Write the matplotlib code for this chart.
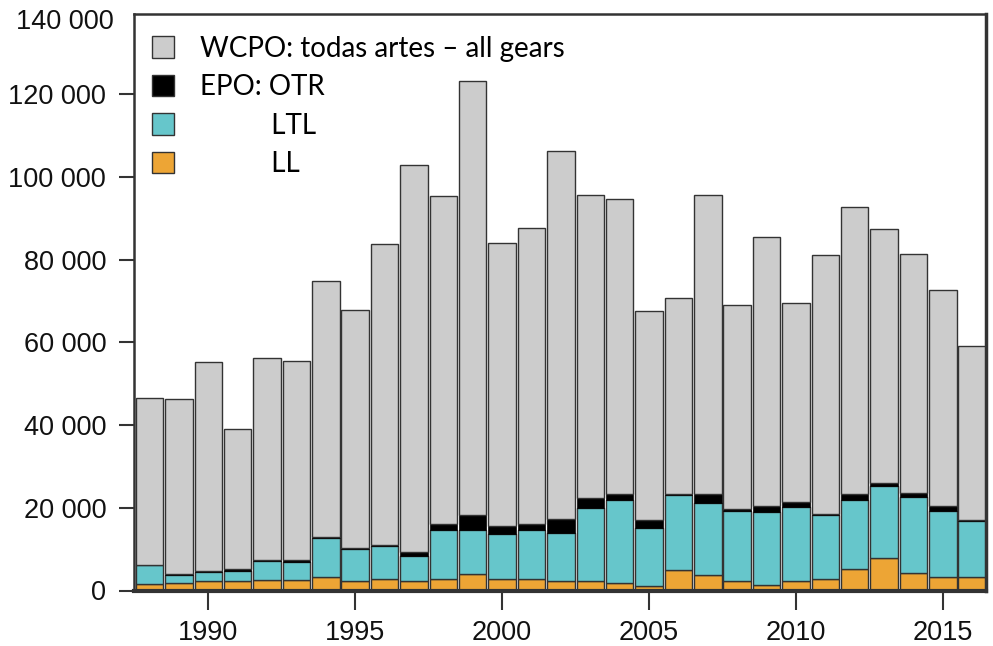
import matplotlib
matplotlib.use("Agg")
import matplotlib.pyplot as plt
import matplotlib.transforms as mtransforms
from matplotlib.patches import Patch
import numpy as np

years = list(range(1988, 2017))
ll = [1600, 1700, 2200, 2300, 2600, 2600, 3300, 2300, 2700, 2300, 2700, 3900, 2700, 2700, 2300,
      2300, 1700, 1200, 5000, 3800, 2300, 1300, 2300, 2700, 5300, 7900, 4200, 3200, 3200]
ltl = [4600, 2100, 2300, 2500, 4500, 4200, 9300, 7700, 8100, 6000, 11900, 10700, 11000, 11900, 11700,
       17600, 20200, 13900, 18000, 17400, 17000, 17600, 18000, 15600, 16600, 17400, 18400, 16000, 13500]
otr = [0, 200, 200, 500, 200, 600, 300, 200, 200, 1000, 1500, 3700, 1800, 1500, 3200,
       2400, 1400, 2000, 300, 2100, 300, 1500, 1100, 300, 1500, 800, 1000, 1300, 400]
wcpo = [40400, 42300, 50500, 33700, 48800, 48100, 62000, 57500, 72800, 93500, 79200, 104900, 68600, 71600, 89000,
        73300, 71300, 50500, 47300, 72300, 49400, 65000, 48200, 62500, 69200, 61300, 57800, 52100, 41900]

labels = ["WCPO: todas artes \u2013 all gears", "EPO: OTR", "LTL", "LL"]
xtick_vals = [1990, 1995, 2000, 2005, 2010, 2015]
ytick_vals = [0, 20000, 40000, 60000, 80000, 100000, 120000]
ytick_labels = ["0", "20 000", "40 000", "60 000", "80 000", "100 000", "120 000"]
top_label = "140 000"

c_wcpo = "#cccccc"
c_otr = "#000000"
c_ltl = "#66c6cb"
c_ll = "#eda535"
edge = "#333333"

W, H = 993, 646
fig = plt.figure(figsize=(W / 100, H / 100), dpi=100)
ax = fig.add_axes([134 / W, 1 - 590.5 / H, (986 - 134) / W, (590.5 - 14) / H])

x = np.array(years, dtype=float)
ll_a = np.array(ll, dtype=float)
ltl_a = np.array(ltl, dtype=float)
otr_a = np.array(otr, dtype=float)
wcpo_a = np.array(wcpo, dtype=float)

bw = 0.935
kw = dict(width=bw, edgecolor=edge, linewidth=1.0)
ax.bar(x, ll_a, color=c_ll, **kw)
ax.bar(x, ltl_a, bottom=ll_a, color=c_ltl, **kw)
ax.bar(x, otr_a, bottom=ll_a + ltl_a, color=c_otr, edgecolor=c_otr, width=bw, linewidth=0.5)
ax.bar(x, wcpo_a, bottom=ll_a + ltl_a + otr_a, color=c_wcpo, **kw)

ax.set_xlim(1987.47, 2016.47)
ax.set_ylim(0, (590.5 - 14) * 241.7)

tickfont = dict(family="Liberation Sans", size=19.5)
ax.set_yticks(ytick_vals)
ax.set_yticklabels(ytick_labels, fontdict=tickfont, color="#111111")
ax.set_xticks(xtick_vals)
ax.set_xticklabels([str(v) for v in xtick_vals], fontdict=tickfont, color="#111111")
ax.tick_params(axis="y", length=11, width=1.5, pad=9, color="#333333")
ax.tick_params(axis="x", length=14, width=1.5, pad=7, color="#333333")

trans = mtransforms.offset_copy(ax.get_yaxis_transform(), fig=fig, x=-20, y=0, units="dots")
ax.text(0, 137400, top_label, transform=trans, ha="right", va="center",
        family="Liberation Sans", fontsize=19.5, color="#111111")

for s in ax.spines.values():
    s.set_color("#333333")
    s.set_linewidth(1.8)
ax.spines["bottom"].set_linewidth(3)
ax.spines["right"].set_linewidth(2.5)

handles = [Patch(facecolor=c, edgecolor=edge, linewidth=1.0) for c in [c_wcpo, c_otr, c_ltl, c_ll]]
pad_sp = " " * 10
leg_labels = [labels[0], labels[1], pad_sp + labels[2], pad_sp + labels[3]]
leg = ax.legend(handles, leg_labels, loc="upper left", frameon=False,
                prop=dict(family="Lato", size=20), handlelength=0.8, handleheight=0.8,
                handletextpad=0.95, labelspacing=0.45, borderaxespad=0.3,
                bbox_to_anchor=(-0.002, 0.996))

fig.savefig("out.png", dpi=100)
